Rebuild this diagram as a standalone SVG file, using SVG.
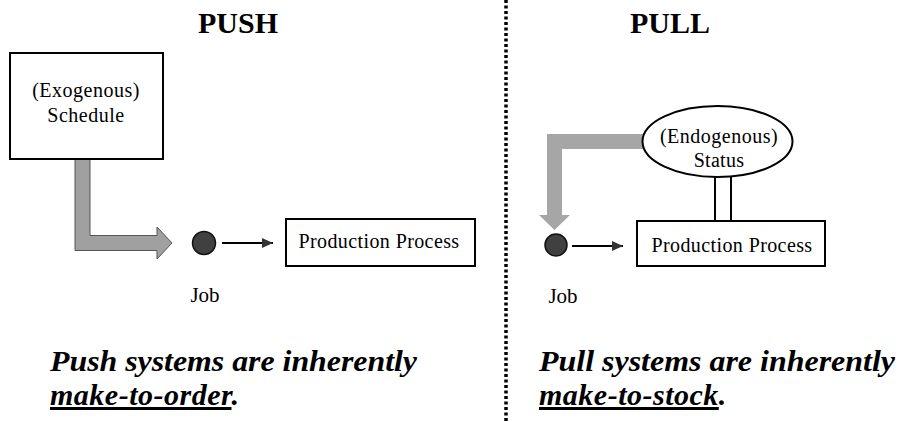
<svg xmlns="http://www.w3.org/2000/svg" width="903" height="422" viewBox="0 0 903 422">
<style>
.t{font-family:"Liberation Serif","Times New Roman",serif;fill:#000}
.title{font-size:30px;font-weight:bold;text-anchor:middle}
.lbl{font-size:20px;text-anchor:middle}
.big{font-size:30px;font-weight:bold;font-style:italic}
.box{fill:#fff;stroke:#000;stroke-width:2}
.job{fill:#404040;stroke:#111;stroke-width:1.5}
.lnk{stroke:#000;stroke-width:2;fill:none}
</style>
<defs>
<marker id="ah" markerUnits="userSpaceOnUse" markerWidth="12" markerHeight="11" refX="11" refY="5" orient="auto">
<path d="M0,0 L11,5 L0,10 Z" fill="#333"/>
</marker>
</defs>
<rect width="903" height="422" fill="#fff"/>
<line x1="506" y1="0" x2="506" y2="422" stroke="#000" stroke-width="3.5" stroke-dasharray="3 2.5"/>
<text class="t title" x="238" y="33">PUSH</text>
<text class="t title" x="670" y="33">PULL</text>
<g id="connectors">
<path d="M75,159 L90,159 L90,235.5 L157,235.5 L157,227 L172,243 L157,259 L157,250.5 L75,250.5 Z" fill="#a0a0a0" stroke="#555" stroke-width="1"/>
<path d="M652,134 L547,134 L547,215 L539,215 L554.5,230 L570,215 L562,215 L562,149 L652,149 Z" fill="#a6a6a6"/>
<line class="lnk" x1="222" y1="243" x2="273" y2="243" marker-end="url(#ah)"/>
<line class="lnk" x1="572" y1="246" x2="623" y2="246" marker-end="url(#ah)"/>
<line class="lnk" x1="715" y1="176" x2="715" y2="221"/>
<line class="lnk" x1="731" y1="176" x2="731" y2="221"/>
</g>
<g id="schedule">
<rect class="box" x="10" y="53" width="153" height="106"/>
<text class="t lbl" x="86" y="97" letter-spacing="0.5">(Exogenous)</text>
<text class="t lbl" x="86" y="122" letter-spacing="0.5">Schedule</text>
</g>
<g id="push-job">
<circle class="job" cx="204" cy="243" r="11.5"/>
<text class="t" x="205" y="302" font-size="21" text-anchor="middle">Job</text>
</g>
<g id="push-process">
<rect class="box" x="286" y="219" width="189" height="47"/>
<text class="t lbl" x="379" y="248" letter-spacing="0.4">Production Process</text>
</g>
<g id="status">
<ellipse cx="717.5" cy="141.5" rx="75" ry="35.5" fill="#fff" stroke="#000" stroke-width="2"/>
<text class="t lbl" x="719" y="143" letter-spacing="0.5">(Endogenous)</text>
<text class="t lbl" x="719" y="167" letter-spacing="0.3">Status</text>
</g>
<g id="pull-job">
<circle class="job" cx="556" cy="245" r="11"/>
<text class="t" x="563" y="303" font-size="21" text-anchor="middle">Job</text>
</g>
<g id="pull-process">
<rect class="box" x="637" y="221" width="188" height="45"/>
<text class="t lbl" x="732" y="252" letter-spacing="0.4">Production Process</text>
</g>
<g id="push-caption">
<text class="t big" x="50" y="371" textLength="367" lengthAdjust="spacingAndGlyphs">Push systems are inherently</text>
<text class="t big" x="50" y="405" letter-spacing="0.5"><tspan text-decoration="underline">make-to-order</tspan>.</text>
</g>
<g id="pull-caption">
<text class="t big" x="539" y="371" textLength="356" lengthAdjust="spacingAndGlyphs">Pull systems are inherently</text>
<text class="t big" x="539" y="405" letter-spacing="0.5"><tspan text-decoration="underline">make-to-stock</tspan>.</text>
</g>
</svg>
